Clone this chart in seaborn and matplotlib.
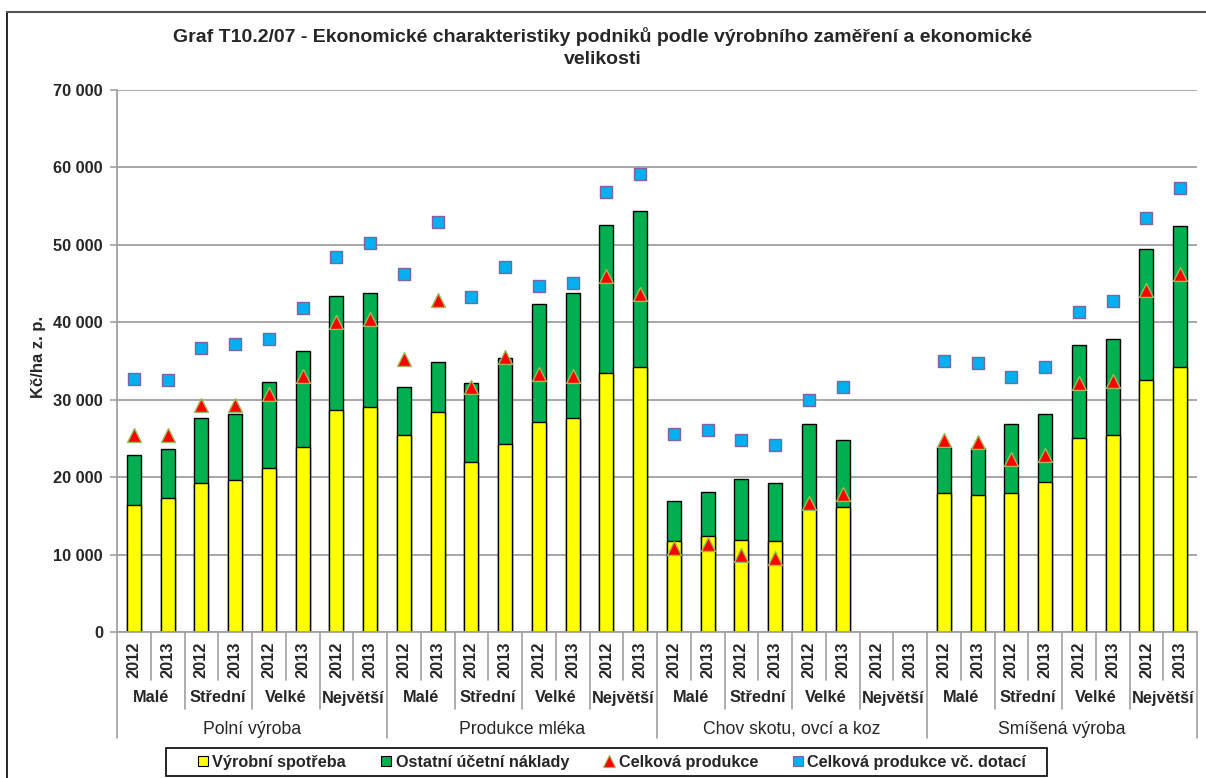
import itertools
import numpy as np
import pandas as pd
import matplotlib
matplotlib.use("Agg")
import matplotlib.pyplot as plt
import matplotlib.ticker as mticker
from matplotlib.lines import Line2D
from matplotlib.patches import Rectangle
import seaborn as sns

# ---------------- data ----------------
groups = ["Polní výroba", "Produkce mléka", "Chov skotu, ovcí a koz", "Smíšená výroba"]
sizes = ["Malé", "Střední", "Velké", "Největší"]
years = ["2012", "2013"]

vyrobni_spotreba = [16400, 17300, 19200, 19600, 21200, 23900, 28700, 29100,
                    25500, 28400, 22000, 24300, 27100, 27600, 33500, 34200,
                    11800, 12400, 11900, 11800, 16000, 16200, np.nan, np.nan,
                    17900, 17700, 17900, 19400, 25000, 25400, 32500, 34200]
ostatni_naklady = [6500, 6300, 8400, 8600, 11100, 12400, 14700, 14700,
                   6100, 6500, 10200, 11100, 15300, 16200, 19100, 20200,
                   5100, 5700, 7800, 7400, 10800, 8600, np.nan, np.nan,
                   6000, 6100, 9000, 8700, 12100, 12400, 17000, 18300]
celkova_produkce = [25500, 25400, 29300, 29300, 30700, 33000, 40000, 40400,
                    35200, 42900, 31700, 35500, 33300, 33000, 46000, 43600,
                    10900, 11400, 10000, 9600, 16700, 17800, np.nan, np.nan,
                    24800, 24500, 22300, 22900, 32100, 32400, 44200, 46300]
celkova_produkce_dotace = [32700, 32600, 36700, 37200, 37900, 41800, 48400, 50300,
                           46300, 53000, 43300, 47100, 44700, 45100, 56800, 59100,
                           25600, 26100, 24800, 24200, 29900, 31700, np.nan, np.nan,
                           35000, 34800, 32900, 34200, 41300, 42700, 53500, 57300]

legend_labels = ["Výrobní spotřeba", "Ostatní účetní náklady",
                 "Celková produkce", "Celková produkce vč. dotací"]
title_lines = ["Graf T10.2/07 - Ekonomické charakteristiky podniků podle výrobního zaměření a ekonomické",
               "velikosti"]
y_label = "Kč/ha z. p."

combos = list(itertools.product(groups, sizes, years))
df = pd.DataFrame(combos, columns=["skupina", "velikost", "rok"])
df["key"] = df["skupina"] + "|" + df["velikost"] + "|" + df["rok"]
df["vyrobni"] = vyrobni_spotreba
df["ostatni"] = ostatni_naklady
df["naklady_celkem"] = df["vyrobni"] + df["ostatni"]
df["celkova"] = celkova_produkce
df["dotace"] = celkova_produkce_dotace
order = list(df["key"])

# ---------------- style ----------------
sns.set_style("white")
plt.rcParams["font.family"] = ["Liberation Sans", "DejaVu Sans"]

YELLOW = "#FFFF00"
GREEN = "#00B050"
RED = "#FF0000"
BLUE = "#00B0F0"
TRI_EDGE = "#9BBB59"
SQ_EDGE = "#8064A2"
GRID = "#A0A0A0"
FS = 11.8

W, H = 1206, 778
fig = plt.figure(figsize=(W / 100, H / 100), dpi=100)
ax = fig.add_axes([117 / W, (H - 632) / H, (1197 - 117) / W, (632 - 90) / H])

bar_w = 0.41
sns.barplot(data=df, x="key", y="naklady_celkem", order=order, color=GREEN,
            saturation=1, width=bar_w, edgecolor="black", linewidth=1.0,
            errorbar=None, ax=ax, zorder=2)
sns.barplot(data=df, x="key", y="vyrobni", order=order, color=YELLOW,
            saturation=1, width=bar_w, edgecolor="black", linewidth=1.0,
            errorbar=None, ax=ax, zorder=2)
sns.stripplot(data=df, x="key", y="celkova", order=order, jitter=False,
              marker="^", color=RED, edgecolor=TRI_EDGE, linewidth=1.0,
              size=10, ax=ax, zorder=4)
sns.stripplot(data=df, x="key", y="dotace", order=order, jitter=False,
              marker="s", color=BLUE, edgecolor=SQ_EDGE, linewidth=1.0,
              size=8.7, ax=ax, zorder=4)

n = len(order)
ax.set_xlim(-0.5, n - 0.5)
ax.set_ylim(0, 70000)
ax.yaxis.set_major_locator(mticker.MultipleLocator(10000))
ax.yaxis.set_major_formatter(mticker.FuncFormatter(
    lambda v, p: f"{int(v):,}".replace(",", " ")))
ax.grid(False)
ax.yaxis.grid(True, color=GRID, linewidth=1.3, zorder=0)
ax.set_axisbelow(True)
ax.set_xticks([])
ax.set_xlabel("")
ax.set_ylabel("")
for s in ["top", "right"]:
    ax.spines[s].set_visible(False)
for s in ["left", "bottom"]:
    ax.spines[s].set_color(GRID)
    ax.spines[s].set_linewidth(1.3)
ax.tick_params(axis="y", which="major", left=True, length=5, width=1.2,
               color=GRID, pad=5, labelsize=FS)
for lbl in ax.get_yticklabels():
    lbl.set_fontweight("bold")

# ---------------- multi-level category axis ----------------
tr = ax.get_xaxis_transform()
ah = 632 - 90
def yf(py):
    return (632 - py) / ah

for b in range(n + 1):
    xb = b - 0.5
    if b % 8 == 0:
        y_end = 738
    elif b % 2 == 0:
        y_end = 709
    else:
        y_end = 680
    ax.add_line(Line2D([xb, xb], [0, yf(y_end)], transform=tr, color=GRID,
                       linewidth=1.2, clip_on=False))

for i, (g, s_, yr) in enumerate(combos):
    ax.text(i, yf(660), yr, transform=tr, rotation=90, ha="center", va="center",
            fontsize=FS, fontweight="bold")
for gi, g in enumerate(groups):
    for si, s_ in enumerate(sizes):
        cx = gi * 8 + si * 2 + 0.5
        ax.text(cx, yf(698), s_, transform=tr, ha="center", va="center",
                fontsize=FS, fontweight="bold")
    ax.text(gi * 8 + 3.5, yf(729), g, transform=tr, ha="center", va="center",
            fontsize=12.7)

# ---------------- title, ylabel ----------------
fig.text(603 / W, 1 - 37 / H, title_lines[0], ha="center", va="center",
         fontsize=14, fontweight="bold")
fig.text(603 / W, 1 - 60 / H, title_lines[1], ha="center", va="center",
         fontsize=14, fontweight="bold")
fig.text(39 / W, 1 - 357 / H, y_label, rotation=90, ha="center", va="center",
         fontsize=12, fontweight="bold")

# ---------------- legend ----------------
handles = [
    Line2D([], [], marker="s", linestyle="none", markerfacecolor=YELLOW,
           markeredgecolor="black", markersize=7, markeredgewidth=0.8),
    Line2D([], [], marker="s", linestyle="none", markerfacecolor=GREEN,
           markeredgecolor="black", markersize=7, markeredgewidth=0.8),
    Line2D([], [], marker="^", linestyle="none", markerfacecolor=RED,
           markeredgecolor=TRI_EDGE, markersize=8, markeredgewidth=0.8),
    Line2D([], [], marker="s", linestyle="none", markerfacecolor=BLUE,
           markeredgecolor=SQ_EDGE, markersize=7, markeredgewidth=0.8),
]
leg = fig.legend(handles, legend_labels, ncol=4, loc="center",
                 bbox_to_anchor=(612 / W, (H - 762) / H), frameon=False,
                 handlelength=0.6, handletextpad=0.3, columnspacing=2.15,
                 borderpad=0.2, prop={"size": 11.7, "weight": "bold"})
fig.add_artist(Rectangle((166 / W, (H - 776) / H), (1047 - 166) / W, 28 / H,
                         transform=fig.transFigure, fill=False,
                         edgecolor="black", linewidth=1.2))

# outer border (left and top visible)
fig.add_artist(Line2D([7 / W, 7 / W], [0, 1 - 12 / H], transform=fig.transFigure,
                      color="black", linewidth=1.2))
fig.add_artist(Line2D([7 / W, 1], [1 - 12 / H, 1 - 12 / H], transform=fig.transFigure,
                      color="#555555", linewidth=1.5))

fig.savefig("out.png", dpi=100)
